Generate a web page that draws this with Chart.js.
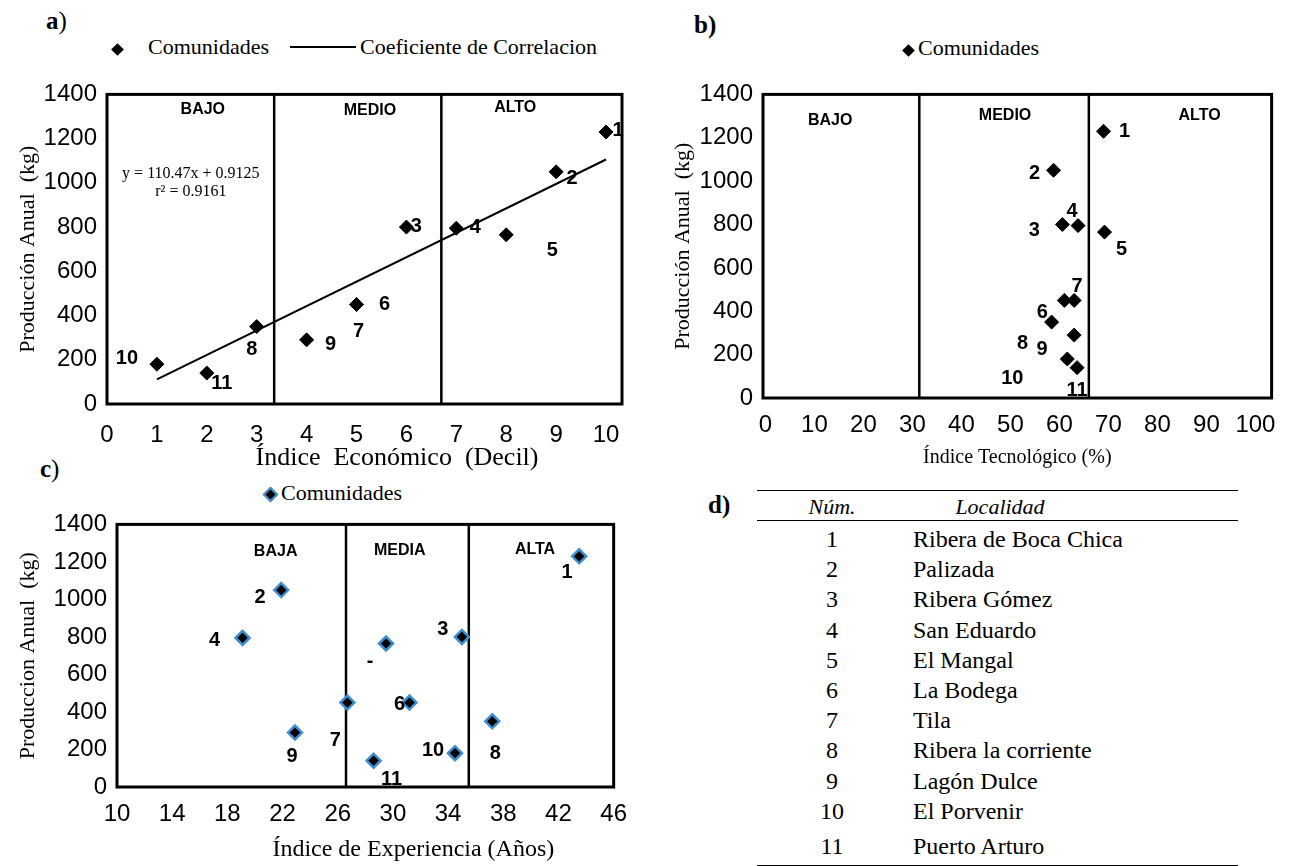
<!DOCTYPE html>
<html>
<head>
<meta charset="utf-8">
<script src="https://cdn.jsdelivr.net/npm/chart.js@4.4.1/dist/chart.umd.min.js"></script>
<style>
  body { margin: 0; width: 1289px; height: 866px; background: #fff; position: relative; overflow: hidden;
         font-family: "Liberation Serif", "Times New Roman", serif; color: #000; }
  .pos { position: absolute; }
  .panel { font-size: 25px; line-height: 1; }
  .panel b { font-weight: bold; }
  .legend { font-size: 22px; line-height: 1; white-space: nowrap; }
  .dia { display: inline-block; width: 9px; height: 9px; background: #000; transform: rotate(45deg); }
  .dia.blue { width: 7px; height: 7px; border: 2.5px solid #3d8fd1; }
  .rule { position: absolute; left: 757px; width: 481px; height: 0; border-top: 1.5px solid #000; }
  .cell { position: absolute; font-size: 24px; line-height: 1; white-space: nowrap; }
</style>
</head>
<body>

<div class="pos panel" style="left:46px;top:8px;"><b>a</b>)</div>
<div class="pos panel" style="left:694px;top:12px;"><b>b)</b></div>
<div class="pos panel" style="left:40px;top:456px;"><b>c</b>)</div>
<div class="pos panel" style="left:708px;top:492px;"><b>d)</b></div>

<div class="pos legend" style="left:113px;top:36px;"><span class="dia"></span></div>
<div class="pos legend" style="left:148px;top:36px;">Comunidades</div>
<div class="pos" style="left:290px;top:46px;width:66px;border-top:2px solid #000;"></div>
<div class="pos legend" style="left:360px;top:36px;">Coeficiente de Correlacion</div>

<div class="pos legend" style="left:904px;top:37px;"><span class="dia"></span></div>
<div class="pos legend" style="left:918px;top:37px;">Comunidades</div>

<div class="pos legend" style="left:265px;top:482px;"><span class="dia blue"></span></div>
<div class="pos legend" style="left:281px;top:482px;">Comunidades</div>

<div class="pos" style="left:0;top:70px;width:640px;height:404px;"><canvas id="chartA" width="640" height="404"></canvas></div>
<div class="pos" style="left:650px;top:70px;width:639px;height:400px;"><canvas id="chartB" width="639" height="400"></canvas></div>
<div class="pos" style="left:0;top:500px;width:640px;height:366px;"><canvas id="chartC" width="640" height="366"></canvas></div>

<div id="tabla"></div>

<script>
// datos de las comunidades (1..11)
const comunidades = [1, 2, 3, 4, 5, 6, 7, 8, 9, 10, 11];
const produccion = [1230, 1050, 800, 795, 765, 450, 450, 350, 290, 180, 140];
const indiceEconomico = [10, 9, 6, 7, 8, 5, 5, 3, 4, 1, 2];
const indiceTecnologico = [69, 58.8, 60.6, 63.8, 69.2, 61, 63, 58.4, 63, 61.6, 63.6];
const indiceExperiencia = [43.5, 21.9, 35, 19.1, 29.5, 31.2, 26.7, 37.2, 22.9, 34.5, 28.6];
const etiquetasC = ["1", "2", "3", "4", "-", "6", "7", "8", "9", "10", "11"];

// recta de regresion (panel a)
const pendiente = 110.47;
const intercepto = 0.9125;
const rangoRecta = [1, 10];

// ticks
const yTicks = [0, 200, 400, 600, 800, 1000, 1200, 1400];
const xTicksA = [0, 1, 2, 3, 4, 5, 6, 7, 8, 9, 10];
const xTicksB = [0, 10, 20, 30, 40, 50, 60, 70, 80, 90, 100];
const xTicksC = [10, 14, 18, 22, 26, 30, 34, 38, 42, 46];

// tabla d
const numeros = [1, 2, 3, 4, 5, 6, 7, 8, 9, 10, 11];
const localidades = ["Ribera de Boca Chica", "Palizada", "Ribera Gómez", "San Eduardo", "El Mangal",
  "La Bodega", "Tila", "Ribera la corriente", "Lagón Dulce", "El Porvenir", "Puerto Arturo"];

const sans = "'Liberation Sans', Arial, sans-serif";
const serif = "'Liberation Serif', 'Times New Roman', serif";
const nb = n => "\u00a0".repeat(n);

const decor = {
  id: "decor",
  beforeDatasetsDraw(chart, args, o) {
    const { ctx, chartArea: a, scales: { x, y } } = chart;
    ctx.save();
    ctx.strokeStyle = "#000";
    ctx.lineWidth = 2.5;
    o.dividers.forEach(v => {
      const px = x.getPixelForValue(v);
      ctx.beginPath();
      ctx.moveTo(px, a.top);
      ctx.lineTo(px, a.bottom);
      ctx.stroke();
    });
    ctx.lineWidth = 3;
    ctx.strokeRect(a.left, a.top, a.width, a.height);
    ctx.fillStyle = "#000";
    ctx.textAlign = "center";
    ctx.textBaseline = "middle";
    ctx.font = "bold 16px " + sans;
    o.zones.forEach(z => ctx.fillText(z.text, x.getPixelForValue(z.x), y.getPixelForValue(z.y)));
    ctx.font = "16px " + serif;
    (o.notes || []).forEach(n => ctx.fillText(n.text, x.getPixelForValue(n.x), y.getPixelForValue(n.y)));
    ctx.restore();
  },
  afterDatasetsDraw(chart, args, o) {
    const { ctx } = chart;
    const meta = chart.getDatasetMeta(0);
    ctx.save();
    ctx.fillStyle = "#000";
    ctx.font = "bold 20px " + sans;
    ctx.textAlign = "center";
    ctx.textBaseline = "middle";
    meta.data.forEach((pt, i) => {
      ctx.fillText(o.labels[i], pt.x + o.offsets[i][0], pt.y + o.offsets[i][1]);
    });
    ctx.restore();
  }
};

function makeChart(id, xVals, xTicks, xMin, xMax, titles, lay, decorOpts, marker, extra) {
  const pts = xVals.map((v, i) => ({ x: v, y: produccion[i] }));
  const datasets = [{
    label: "Comunidades",
    data: pts,
    pointStyle: "rectRot",
    pointRadius: marker.radius,
    backgroundColor: "#000",
    borderColor: marker.border,
    borderWidth: marker.borderWidth,
    order: 0
  }].concat(extra || []);
  return new Chart(document.getElementById(id), {
    type: "scatter",
    data: { datasets },
    plugins: [decor],
    options: {
      responsive: false,
      animation: false,
      events: [],
      layout: { padding: lay.padding },
      plugins: { legend: { display: false }, tooltip: { enabled: false }, decor: decorOpts },
      scales: {
        x: {
          type: "linear", min: xMin, max: xMax,
          afterBuildTicks: s => { s.ticks = xTicks.map(v => ({ value: v })); },
          afterFit: s => { s.height = lay.xHeight; },
          grid: { display: false, drawTicks: false },
          border: { display: false },
          ticks: { color: "#000", font: { family: sans, size: 24 }, padding: lay.xPad, maxRotation: 0, autoSkip: false,
                   callback: v => String(v) },
          title: { display: true, text: titles.x, color: "#000", font: { family: serif, size: titles.xSize }, padding: { top: 0, bottom: lay.xTitlePad } }
        },
        y: {
          min: 0, max: 1400,
          afterBuildTicks: s => { s.ticks = yTicks.map(v => ({ value: v })); },
          afterFit: s => { s.width = lay.yWidth; },
          grid: { display: false, drawTicks: false },
          border: { display: false },
          ticks: { color: "#000", font: { family: sans, size: 24 }, padding: 10, callback: v => String(v) },
          title: { display: true, text: titles.y, color: "#000", font: { family: serif, size: 22 }, padding: { top: lay.yTitlePad, bottom: 0 } }
        }
      }
    }
  });
}

const rectaRegresion = rangoRecta.map(v => ({ x: v, y: pendiente * v + intercepto }));

makeChart("chartA", indiceEconomico, xTicksA, 0, 10.32,
  { x: nb(10) + "Índice  Económico  (Decil)", y: "Producción Anual  (kg)", xSize: 26 },
  { padding: { top: 17, right: 18, left: 0, bottom: 0 }, xHeight: 70, yWidth: 107, xPad: 17, xTitlePad: 0, yTitlePad: 15 },
  {
    dividers: [3.35, 6.7],
    zones: [{ text: "BAJO", x: 1.92, y: 1330 }, { text: "MEDIO", x: 5.27, y: 1325 }, { text: "ALTO", x: 8.18, y: 1340 }],
    notes: [{ text: "y = 110.47x + 0.9125", x: 1.68, y: 1042 }, { text: "r² = 0.9161", x: 1.68, y: 960 }],
    labels: comunidades.map(String),
    offsets: [[12, -2], [16, 7], [10, -1], [19, -1], [46, 16], [28, 0], [2, 27], [-5, 23], [24, 5], [-30, -6], [15, 10]]
  },
  { radius: 7, border: "#000", borderWidth: 1 },
  [{
    type: "line",
    label: "Coeficiente de Correlacion",
    data: rectaRegresion,
    borderColor: "#000",
    borderWidth: 2,
    pointRadius: 0,
    showLine: true,
    order: 1
  }]
);

makeChart("chartB", indiceTecnologico, xTicksB, -0.5, 103.3,
  { x: "Índice Tecnológico (%)", y: "Producción Anual  (kg)", xSize: 20 },
  { padding: { top: 18, right: 17, left: 0, bottom: 0 }, xHeight: 72, yWidth: 113, xPad: 13, xTitlePad: 0, yTitlePad: 20 },
  {
    dividers: [31.4, 66],
    zones: [{ text: "BAJO", x: 13.2, y: 1278 }, { text: "MEDIO", x: 48.9, y: 1300 }, { text: "ALTO", x: 88.6, y: 1300 }],
    labels: comunidades.map(String),
    offsets: [[21, 0], [-19, 3], [-28, 6], [-6, -14], [17, 17], [-22, 12], [3, -14], [-29, 21], [-32, 14], [-55, 20], [0, 23]]
  },
  { radius: 7, border: "#000", borderWidth: 1 }
);

makeChart("chartC", indiceExperiencia, xTicksC, 10, 46,
  { x: nb(16) + "Índice de Experiencia (Años)", y: "Produccion Anual  (kg)", xSize: 24 },
  { padding: { top: 19, right: 15, left: 0, bottom: 0 }, xHeight: 79, yWidth: 117, xPad: 13, xTitlePad: 2, yTitlePad: 15 },
  {
    dividers: [26.6, 35.5],
    zones: [{ text: "BAJA", x: 21.5, y: 1254 }, { text: "MEDIA", x: 30.5, y: 1259 }, { text: "ALTA", x: 40.3, y: 1265 }],
    labels: etiquetasC,
    offsets: [[-12, 16], [-21, 7], [-19, -7], [-28, 3], [-16, 18], [-10, 2], [-12, 38], [3, 32], [-3, 24], [-22, -3], [18, 19]]
  },
  { radius: 7, border: "#3d8fd1", borderWidth: 2.5 }
);

// tabla d
const tabla = document.getElementById("tabla");
function addEl(cls, style, html) {
  const d = document.createElement("div");
  d.className = cls;
  d.style.cssText = style;
  d.innerHTML = html || "";
  tabla.appendChild(d);
}
addEl("rule", "top:490px;");
addEl("rule", "top:520px;");
addEl("rule", "top:865px;");
addEl("cell", "left:792px;width:80px;text-align:center;top:496px;font-style:italic;font-size:22px;", "Núm.");
addEl("cell", "left:940px;width:120px;text-align:center;top:496px;font-style:italic;font-size:22px;", "Localidad");
numeros.forEach((n, i) => {
  const cy = i < 10 ? 539 + i * 30.2 : 846;
  addEl("cell", "left:792px;width:80px;text-align:center;top:" + (cy - 12) + "px;", String(n));
  addEl("cell", "left:913px;top:" + (cy - 12) + "px;", localidades[i]);
});
</script>
</body>
</html>
